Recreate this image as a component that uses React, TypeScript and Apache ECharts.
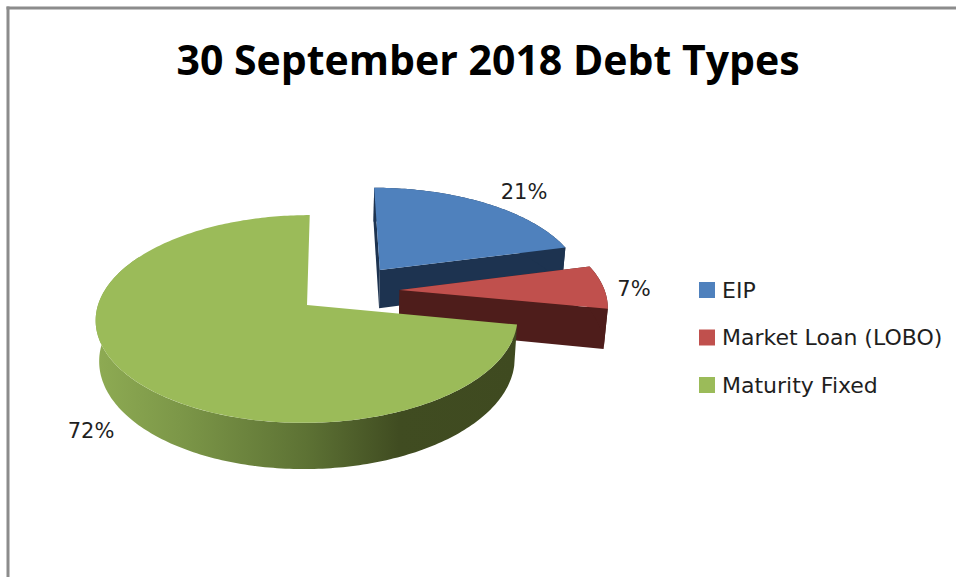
import React, { useEffect, useRef } from "react";
import * as echarts from "echarts";

// Debt mix at 30 September 2018, in percent of the total
const categories = ["EIP", "Market Loan (LOBO)", "Maturity Fixed"];
const shares = [21, 7, 72];
const chartTitle = "30 September 2018 Debt Types";

const TOP_COLORS = ["#4f81bd", "#c0504d", "#9bbb59"];
const WALL_COLORS = ["#1d3350", "#4e1d1b", "#3f4a20"];
const FONT_TEXT = "'DejaVu Sans', sans-serif";

// Disc-plane offset of each exploded slice, in pie radii
const EXPLODE = [
  { u: 0.25, v: 0.36 },
  { u: 0.34, v: 0.15 },
  { u: -0.11, v: 0 },
];
// Anchor of each percentage label
const LABEL_AT = [
  [524, 192],
  [634, 289],
  [91, 431],
];

// Oblique camera over the pie, with a little perspective
const VIEW = { cx: 330, cy: 305, rx: 209, ry: 102, dist: 7.43, depth: 40, shrink: 0.985 };
// Past this bearing the rim lies behind the top face
const RIM_LIMIT = (300 / 180) * Math.PI;

type Pt = [number, number];

function project(u: number, v: number, lowered: boolean): Pt {
  const s = VIEW.dist / (VIEW.dist + v);
  const x = VIEW.rx * u * s;
  const y = VIEW.cy - VIEW.ry * v * s;
  return lowered
    ? [VIEW.cx + x * VIEW.shrink, y + VIEW.depth * s]
    : [VIEW.cx + x, y];
}

function arcPoints(idx: number, from: number, to: number, lowered: boolean): Pt[] {
  const { u, v } = EXPLODE[idx];
  const pts: Pt[] = [];
  const steps = Math.max(2, Math.ceil((to - from) / (Math.PI / 180)));
  for (let i = 0; i <= steps; i++) {
    const a = from + ((to - from) * i) / steps;
    pts.push(project(u + Math.sin(a), v + Math.cos(a), lowered));
  }
  return pts;
}

function sliceAngles(idx: number): [number, number] {
  const total = shares.reduce((a, b) => a + b, 0);
  const before = shares.slice(0, idx).reduce((a, b) => a + b, 0);
  return [
    (before / total) * Math.PI * 2,
    ((before + shares[idx]) / total) * Math.PI * 2,
  ];
}

function renderSlice(idx: number) {
  const [from, to] = sliceAngles(idx);
  const apexTop = project(EXPLODE[idx].u, EXPLODE[idx].v, false);
  const apexLow = project(EXPLODE[idx].u, EXPLODE[idx].v, true);
  const top = arcPoints(idx, from, to, false);
  const low = arcPoints(idx, from, to, true);
  const rimEnd = Math.min(to, RIM_LIMIT);
  const rimTop = arcPoints(idx, from, rimEnd, false);
  const rimLow = arcPoints(idx, from, rimEnd, true);

  const isLargest = idx === 2;
  const wallFill = isLargest
    ? new echarts.graphic.LinearGradient(0, 0, 1, 0, [
        { offset: 0, color: "#8eab53" },
        { offset: 0.2, color: "#7c9748" },
        { offset: 0.5, color: "#5d7234" },
        { offset: 0.72, color: "#404c21" },
        { offset: 1, color: "#3f4a20" },
      ])
    : WALL_COLORS[idx];

  const poly = (points: Pt[], fill: any) => ({
    type: "polygon",
    shape: { points },
    style: { fill },
  });

  // the largest slice's cut faces point away from the camera
  const cutFaces = isLargest
    ? []
    : [
        poly([apexTop, top[0], low[0], apexLow], WALL_COLORS[idx]),
        poly([apexTop, top[top.length - 1], low[low.length - 1], apexLow], WALL_COLORS[idx]),
      ];

  return {
    type: "group",
    children: [
      ...cutFaces,
      poly([...rimTop, ...rimLow.slice().reverse()], wallFill),
      poly([apexTop, ...top], TOP_COLORS[idx]),
      {
        type: "text",
        style: {
          text: `${shares[idx]}%`,
          x: LABEL_AT[idx][0],
          y: LABEL_AT[idx][1],
          textAlign: "center",
          textVerticalAlign: "middle",
          fontFamily: FONT_TEXT,
          fontSize: 21,
          fill: "#1f1f1f",
        },
      },
    ],
  };
}

export default function App() {
  const ref = useRef<HTMLDivElement>(null);

  useEffect(() => {
    document.body.style.margin = "0";
    const chart = echarts.init(ref.current!, undefined, { renderer: "svg" });
    chart.setOption({
      animation: false,
      backgroundColor: "#ffffff",
      title: {
        text: chartTitle,
        left: 483,
        top: 33,
        textAlign: "center",
        textStyle: {
          fontFamily: "'Open Sans', sans-serif",
          fontWeight: "bold",
          fontSize: 41,
          color: "#000000",
        },
      },
      legend: {
        orient: "vertical",
        left: 699,
        top: 279,
        padding: 0,
        icon: "rect",
        itemWidth: 16,
        itemHeight: 16,
        itemGap: 25.5,
        selectedMode: false,
        data: categories,
        textStyle: {
          fontFamily: FONT_TEXT,
          fontSize: 22,
          color: "#1f1f1f",
          padding: [0, 0, 0, 2],
        },
      },
      graphic: [
        { type: "line", silent: true, shape: { x1: 8, y1: 6.5, x2: 8, y2: 577 }, style: { stroke: "#8c8c8c", lineWidth: 3 } },
        { type: "line", silent: true, shape: { x1: 6.5, y1: 8, x2: 956, y2: 8 }, style: { stroke: "#8c8c8c", lineWidth: 3 } },
      ],
      series: categories.map((name, idx) => ({
        type: "custom",
        name,
        coordinateSystem: "none",
        silent: true,
        itemStyle: { color: TOP_COLORS[idx] },
        data: [[shares[idx]]],
        renderItem: () => renderSlice(idx),
      })),
    });
    return () => chart.dispose();
  }, []);

  return <div ref={ref} style={{ width: 956, height: 577 }} />;
}
